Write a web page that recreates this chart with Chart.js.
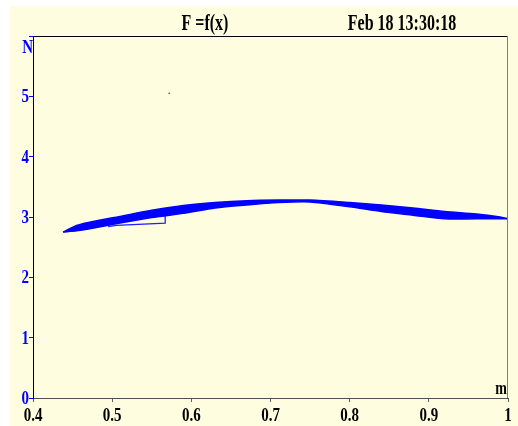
<!DOCTYPE html>
<html>
<head>
<meta charset="utf-8">
<script src="https://cdn.jsdelivr.net/npm/chart.js@4"></script>
<style>
  html, body { margin: 0; padding: 0; background: #ffffff; }
  #wrap { position: relative; width: 518px; height: 426px; }
</style>
</head>
<body>
<div id="wrap"><canvas id="myChart" width="518" height="426"></canvas></div>
<script>
// band of the F = f(x) curve (upper and lower edge)
const bandX     = [0.438, 0.455, 0.47, 0.51, 0.55, 0.59, 0.63, 0.67, 0.71, 0.75, 0.80, 0.84, 0.88, 0.92, 0.96, 0.99, 1.0];
const bandUpper = [2.75, 2.86, 2.91, 3.01, 3.11, 3.19, 3.24, 3.27, 3.28, 3.28, 3.24, 3.20, 3.15, 3.09, 3.05, 3.00, 2.97];
const bandLower = [2.75, 2.77, 2.80, 2.90, 2.99, 3.06, 3.15, 3.20, 3.24, 3.25, 3.17, 3.09, 3.03, 2.97, 2.97, 2.97, 2.97];

// the small thin loop under the band
const loopX = [0.495, 0.505, 0.567, 0.567];
const loopY = [2.84, 2.86, 2.90, 3.05];

// stray dot near the top
const dotX = [0.572];
const dotY = [5.05];

const xTicks = [0.4, 0.5, 0.6, 0.7, 0.8, 0.9, 1.0];
const xTickLabels = ['0.4', '0.5', '0.6', '0.7', '0.8', '0.9', '1'];
const yTicks = [0, 1, 2, 3, 4, 5, 6];
const yTickLabels = ['0', '1', '2', '3', '4', '5'];

const titleText = 'F =f(x)';
const dateText = 'Feb 18 13:30:18';
const xUnit = 'm';
const yUnit = 'N';

function pts(xs, ys) {
  return xs.map((x, i) => ({ x: x, y: ys[i] }));
}

// text in the original is tall and narrow, so stretch it a bit vertically
function tallText(ctx, text, x, y, font, color, align, sy) {
  ctx.save();
  ctx.font = font;
  ctx.fillStyle = color;
  ctx.textAlign = align;
  ctx.textBaseline = 'middle';
  ctx.translate(x, y);
  ctx.scale(1, sy);
  ctx.fillText(text, 0, 0);
  ctx.restore();
}

const paperPlugin = {
  id: 'paper',
  beforeDraw(chart) {
    const ctx = chart.ctx;
    ctx.save();
    ctx.fillStyle = '#ffffff';
    ctx.fillRect(0, 0, chart.width, chart.height);
    ctx.fillStyle = '#fffde0';
    ctx.fillRect(10, 6, chart.width - 10, chart.height - 6);
    ctx.restore();
  },
  afterDraw(chart) {
    const ctx = chart.ctx;
    const a = chart.chartArea;
    const xs = chart.scales.x;
    const ys = chart.scales.y;

    // frame top and right
    ctx.save();
    ctx.lineWidth = 1;
    ctx.strokeStyle = '#000000';
    ctx.beginPath();
    ctx.moveTo(a.left, a.top + 0.5);
    ctx.lineTo(a.right, a.top + 0.5);
    ctx.stroke();
    ctx.strokeStyle = '#808080';
    ctx.beginPath();
    ctx.moveTo(a.right - 0.5, a.top);
    ctx.lineTo(a.right - 0.5, a.bottom);
    ctx.stroke();
    ctx.restore();

    const tickFont = 'bold 15px "Liberation Serif"';
    xTickLabels.forEach((lab, i) => {
      tallText(ctx, lab, xs.getPixelForValue(xTicks[i]), a.bottom + 18, tickFont, '#000000', 'center', 1.28);
    });
    yTickLabels.forEach((lab, i) => {
      tallText(ctx, lab, a.left - 4, ys.getPixelForValue(yTicks[i]) + 1, tickFont, '#0000ff', 'right', 1.28);
    });
    tallText(ctx, yUnit, a.left, a.top + 12, tickFont, '#0000ff', 'right', 1.28);
    tallText(ctx, xUnit, a.right - 1, a.bottom - 9, 'bold 14px "Liberation Serif"', '#000000', 'right', 1.28);

    const titleFont = 'bold 16px "Liberation Serif"';
    tallText(ctx, titleText, 205, 24, titleFont, '#000000', 'center', 1.45);
    tallText(ctx, dateText, 402, 24, titleFont, '#000000', 'center', 1.45);
  }
};

var ctx = document.getElementById('myChart').getContext('2d');
var myChart = new Chart(ctx, {
  type: 'line',
  data: {
    datasets: [{
      data: pts(bandX, bandUpper),
      borderColor: '#0000ff',
      backgroundColor: '#0000ff',
      borderWidth: 1.5,
      pointRadius: 0,
      tension: 0.25,
      fill: '+1'
    }, {
      data: pts(bandX, bandLower),
      borderColor: '#0000ff',
      borderWidth: 1.5,
      pointRadius: 0,
      tension: 0.25,
      fill: false
    }, {
      data: pts(loopX, loopY),
      borderColor: '#1e1eff',
      borderWidth: 1.3,
      pointRadius: 0,
      tension: 0,
      fill: false
    }, {
      data: pts(dotX, dotY),
      showLine: false,
      pointRadius: 0.8,
      pointBackgroundColor: '#404040',
      pointBorderWidth: 0
    }]
  },
  options: {
    responsive: false,
    animation: false,
    events: [],
    layout: { padding: { left: 10, top: 36, right: 10, bottom: 0 } },
    plugins: {
      legend: { display: false },
      tooltip: { enabled: false },
      title: { display: false }
    },
    scales: {
      x: {
        type: 'linear',
        min: 0.4,
        max: 1,
        afterBuildTicks: (scale) => { scale.ticks = xTicks.map(v => ({ value: v })); },
        afterFit: (scale) => { scale.height = 28; },
        ticks: { display: false },
        grid: { drawOnChartArea: false, drawTicks: true, tickLength: 4, color: '#606060' },
        border: { color: '#505050', width: 1 }
      },
      y: {
        type: 'linear',
        min: 0,
        max: 6,
        afterBuildTicks: (scale) => { scale.ticks = yTicks.map(v => ({ value: v })); },
        afterFit: (scale) => { scale.width = 23; },
        ticks: { display: false },
        grid: { drawOnChartArea: false, drawTicks: true, tickLength: 4, color: '#0000ff' },
        border: { color: '#000000', width: 1 }
      }
    }
  },
  plugins: [paperPlugin]
});
</script>
</body>
</html>
